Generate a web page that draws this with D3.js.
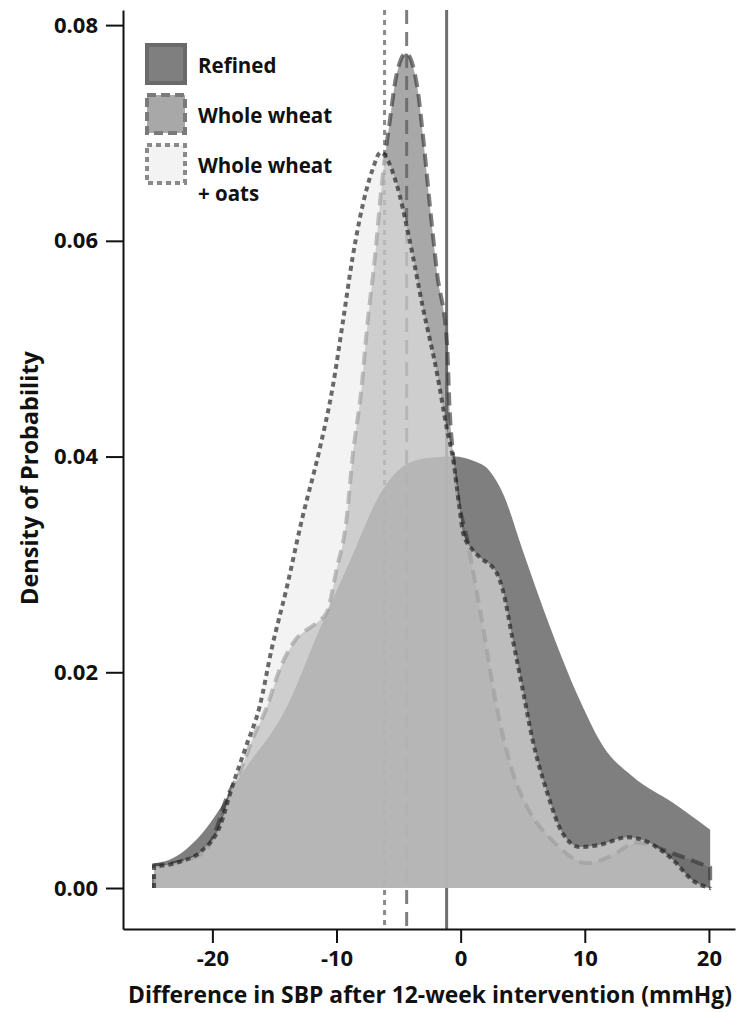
<!DOCTYPE html>
<html>
<head>
<meta charset="utf-8">
<script src="https://cdn.jsdelivr.net/npm/d3@7"></script>
<style>
  body { margin: 0; background: #fff; }
  svg text { font-family: 'Open Sans', sans-serif; font-weight: 700; fill: #111; }
</style>
</head>
<body>
<svg id="chart" width="753" height="1012"></svg>
<script>
// density curves: [SBP difference, density]
const refinedPts = [
  [-24.7, 0.0023], [-23.5, 0.0026], [-20.8, 0.0051], [-18.6, 0.0088], [-17.8, 0.0103],
  [-14.0, 0.0168], [-11.4, 0.0239], [-9.0, 0.0301], [-6.3, 0.0369], [-4.5, 0.0392],
  [-2.5, 0.0399], [-0.5, 0.0400], [1.0, 0.0396], [2.3, 0.0387], [3.4, 0.0366],
  [5.0, 0.0313], [7.2, 0.0242], [9.6, 0.0174], [11.5, 0.0131], [13.9, 0.0103],
  [17.1, 0.0079], [20.1, 0.0054]
]
const wheatPts = [
  [-24.7, 0.0021], [-22.1, 0.0026], [-20.5, 0.0035], [-19.7, 0.0054], [-18.9, 0.0082],
  [-17.8, 0.0107], [-16.8, 0.0137], [-15.6, 0.0168], [-14.6, 0.0202], [-13.5, 0.0227],
  [-11.6, 0.0246], [-10.8, 0.0255], [-10.0, 0.0295], [-9.2, 0.0341], [-8.7, 0.0400],
  [-8.0, 0.0462], [-7.5, 0.0524], [-6.9, 0.0585], [-6.4, 0.0647], [-5.7, 0.0712],
  [-5.2, 0.0752], [-4.4, 0.0774], [-3.5, 0.0743], [-3.06, 0.0700], [-2.5, 0.0635],
  [-1.9, 0.0570], [-1.1, 0.0505], [-0.9, 0.0446], [-0.6, 0.0400], [0.7, 0.0313],
  [1.8, 0.0242], [2.9, 0.0168], [4.2, 0.0107], [5.6, 0.0070], [7.4, 0.0044],
  [10.2, 0.0023], [12.0, 0.0029], [14.2, 0.0042], [17.1, 0.0032], [20.1, 0.0019]
]
const oatsPts = [
  [-24.7, 0.0020], [-22.7, 0.0024], [-20.8, 0.0035], [-19.4, 0.0057], [-18.4, 0.0094],
  [-17.3, 0.0131], [-16.2, 0.0168], [-15.2, 0.0223], [-14.0, 0.0279], [-12.8, 0.0341],
  [-11.4, 0.0405], [-10.3, 0.0465], [-9.5, 0.0524], [-8.7, 0.0585], [-7.6, 0.0647],
  [-7.1, 0.0666], [-6.45, 0.0682], [-5.2, 0.0654], [-4.1, 0.0600], [-3.06, 0.0539],
  [-1.9, 0.0477], [-1.1, 0.0425], [-0.6, 0.0397], [-0.1, 0.0353], [0.2, 0.0329],
  [1.0, 0.0313], [1.5, 0.0307], [2.9, 0.0292], [3.4, 0.0276], [4.2, 0.0230],
  [5.0, 0.0184], [5.8, 0.0137], [6.9, 0.0091], [8.2, 0.0051], [9.6, 0.0038],
  [11.2, 0.0040], [13.4, 0.0047], [15.0, 0.0043], [17.1, 0.0026], [18.7, 0.0007],
  [20.1, 0.0000]
]

const groupNames = ['Refined', 'Whole wheat', 'Whole wheat\n+ oats']
const groupMeans = [-1.13, -4.35, -6.13]
const xTicks = [-20, -10, 0, 10, 20]
const yTicks = [0, 0.02, 0.04, 0.06, 0.08]

const xTitle = 'Difference in SBP after 12-week intervention (mmHg)'
const yTitle = 'Density of Probability'

const plotLeft = 123, plotRight = 735, plotTop = 10, plotBottom = 929

const xs = d3.scaleLinear().domain([-27.2, 22.1]).range([plotLeft, plotRight])
const ys = d3.scaleLinear().domain([-0.0038, 0.0814]).range([plotBottom, plotTop])

const svg = d3.select('#chart')

// look of each group, drawn in this order
const looks = [
  { fill: 'rgb(105,105,105)', op: 0.85, stroke: null, dash: null,
    mean: '#6e6e6e', meanDash: null,
    swStroke: '#6a6a6a', swDash: null },
  { fill: 'rgb(100,100,100)', op: 0.56, stroke: 'rgba(55,55,55,0.65)', dash: '13,7',
    mean: '#7e7e7e', meanDash: '14,8',
    swStroke: '#7a7a7a', swDash: '9,5' },
  { fill: 'rgb(234,234,234)', op: 0.575, stroke: 'rgba(35,35,35,0.68)', dash: '5,4',
    mean: '#8a8a8a', meanDash: '5,5',
    swStroke: '#8a8a8a', swDash: '5,4' },
]
const series = [refinedPts, wheatPts, oatsPts]

// mean lines sit under the filled curves
svg.append('g')
  .selectAll('line')
  .data(groupMeans)
  .join('line')
  .attr('x1', (d) => xs(d))
  .attr('x2', (d) => xs(d))
  .attr('y1', plotTop)
  .attr('y2', plotBottom)
  .attr('stroke', (d, i) => looks[i].mean)
  .attr('stroke-width', 3)
  .attr('stroke-dasharray', (d, i) => looks[i].meanDash)

const area = d3.area()
  .x((d) => xs(d[0]))
  .y0(ys(0))
  .y1((d) => ys(d[1]))
  .curve(d3.curveMonotoneX)

const line = d3.line()
  .x((d) => xs(d[0]))
  .y((d) => ys(d[1]))
  .curve(d3.curveMonotoneX)

function outline(pts) {
  let first = pts[0], last = pts[pts.length - 1]
  return 'M' + xs(first[0]) + ',' + ys(0) + 'L' + line(pts).slice(1) +
    'L' + xs(last[0]) + ',' + ys(0)
}

series.forEach((pts, i) => {
  let lk = looks[i]
  let g = svg.append('g')
  g.append('path')
    .attr('d', area(pts))
    .attr('fill', lk.fill)
    .attr('fill-opacity', lk.op)
  if (lk.stroke) {
    g.append('path')
      .attr('d', outline(pts))
      .attr('fill', 'none')
      .attr('stroke', lk.stroke)
      .attr('stroke-width', 4)
      .attr('stroke-dasharray', lk.dash)
  }
})

// axes
const yAxis = d3.axisLeft(ys)
  .tickValues(yTicks)
  .tickFormat(d3.format('.2f'))
  .tickSizeInner(17)
  .tickSizeOuter(0)
  .tickPadding(8)
const xAxis = d3.axisBottom(xs)
  .tickValues(xTicks)
  .tickFormat((d) => String(d))
  .tickSizeInner(14)
  .tickSizeOuter(0)
  .tickPadding(7)

function styleAxis(g) {
  g.selectAll('path, line').attr('stroke', '#111').attr('stroke-width', 2)
  g.selectAll('text').attr('font-size', 22)
  g.attr('font-family', null).attr('font-size', null)
}

svg.append('g')
  .attr('transform', `translate(${plotLeft},0)`)
  .call(yAxis)
  .call(styleAxis)

svg.append('g')
  .attr('transform', `translate(0,${plotBottom})`)
  .call(xAxis)
  .call(styleAxis)

svg.append('text')
  .attr('x', 430)
  .attr('y', 1003)
  .attr('text-anchor', 'middle')
  .attr('font-size', 23)
  .attr('textLength', 604)
  .attr('lengthAdjust', 'spacingAndGlyphs')
  .text(xTitle)

svg.append('text')
  .attr('transform', 'translate(38,478) rotate(-90)')
  .attr('text-anchor', 'middle')
  .attr('font-size', 23)
  .attr('textLength', 254)
  .attr('lengthAdjust', 'spacingAndGlyphs')
  .text(yTitle)

// legend
const legend = svg.append('g').attr('transform', 'translate(147,45)')
groupNames.forEach((name, i) => {
  let lk = looks[i]
  let row = legend.append('g').attr('transform', `translate(0,${i * 50})`)
  row.append('rect')
    .attr('width', 38)
    .attr('height', 38)
    .attr('fill', lk.fill)
    .attr('fill-opacity', lk.op)
    .attr('stroke', lk.swStroke)
    .attr('stroke-width', 4)
    .attr('stroke-dasharray', lk.swDash)
  let t = row.append('text')
    .attr('x', 51)
    .attr('y', 28)
    .attr('font-size', 20.5)
  name.split('\n').forEach((part, j) => {
    t.append('tspan').attr('x', 51).attr('dy', j ? 28 : 0).text(part)
  })
})
</script>
</body>
</html>
